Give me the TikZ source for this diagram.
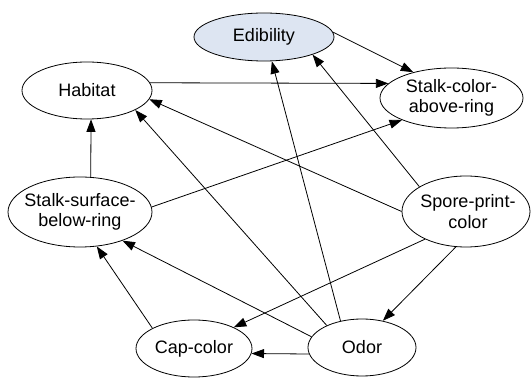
\documentclass[tikz,border=0pt]{standalone}
\usepackage{fontspec}
\setmainfont{Liberation Sans}
\usetikzlibrary{shapes.geometric,arrows.meta}
\definecolor{edfill}{RGB}{221,229,242}
\begin{document}
\begin{tikzpicture}[x=1pt,y=-1pt,
  ell/.style={draw=black,line width=0.8pt,ellipse,inner sep=0pt,fill=white},
  lbl/.style={inner sep=0pt,align=center,font=\fontsize{18}{20.5}\selectfont},
  edge/.style={draw=black,line width=0.8pt,-{Triangle[length=12.5pt,width=9pt]}}]
\useasboundingbox (0,0) rectangle (531,379);
% nodes
\node[ell,fill=edfill,minimum width=140pt,minimum height=48pt] (E) at (264,37) {};
\node[lbl] (Et) at (E) {Edibility};
\node[ell,minimum width=143pt,minimum height=60pt] (SC) at (451.5,98) {};
\node[lbl] (SCt) at (SC) {Stalk-color-\\above-ring};
\node[ell,minimum width=130pt,minimum height=57pt] (H) at (87,90.5) {};
\node[lbl] (Ht) at (H) {Habitat};
\node[ell,minimum width=144pt,minimum height=70pt] (SS) at (80,212) {};
\node[lbl] (SSt) at (SS) {Stalk-surface-\\below-ring};
\node[ell,minimum width=128pt,minimum height=71pt] (SP) at (466,211.5) {};
\node[lbl] (SPt) at ([xshift=2pt]SP.center) {Spore-print-\\color};
\node[ell,minimum width=116pt,minimum height=57pt] (CC) at (194,348.5) {};
\node[lbl] (CCt) at (CC) {Cap-color};
\node[ell,minimum width=108pt,minimum height=57pt] (O) at (362,347.5) {};
\node[lbl] (Ot) at (O) {Odor};
% edges
\draw[edge] (E.4) -- (SC.146);
\draw[edge] (H.7) -- (SC.167);
\draw[edge] (SS.73) -- (H.-82);
\draw[edge] (SS.4) -- (SC.204);
\draw[edge] (SP.180) -- (H.-8.6);
\draw[edge] (SP.152) -- (E.-20.6);
\draw[edge] (SP.214.8) -- (CC.28.8);
\draw[edge] (SP.254.3) -- (O.52.6);
\draw[edge] (O.187) -- (CC.-5.4);
\draw[edge] (O.129.7) -- (E.-72);
\draw[edge] (O.148) -- (H.-22.9);
\draw[edge] (O.168) -- (SS.-34.9);
\draw[edge] (CC.154) -- (SS.-64.7);
\end{tikzpicture}
\end{document}
